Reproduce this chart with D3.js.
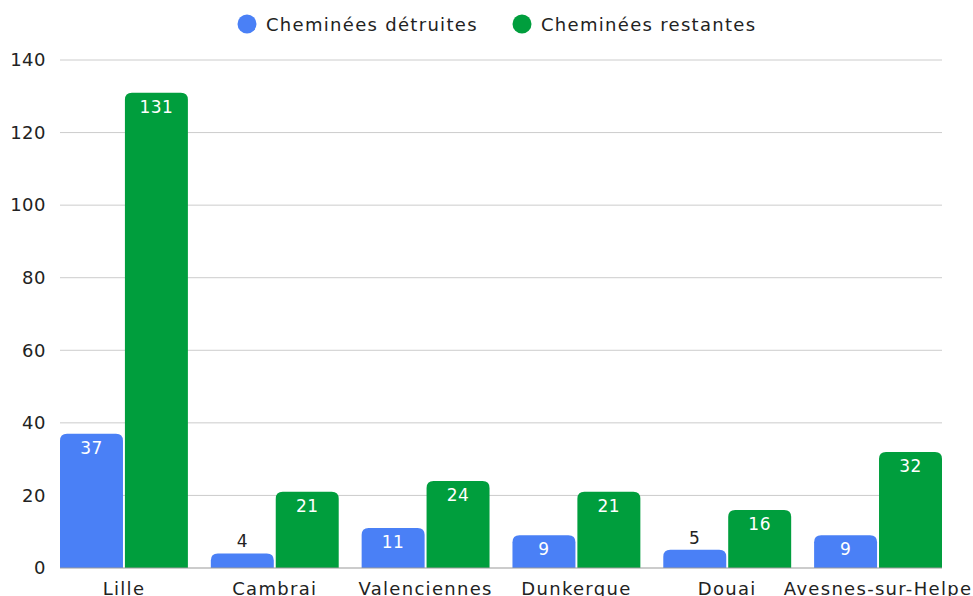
<!DOCTYPE html>
<html><head><meta charset="utf-8">
<script src="https://cdn.jsdelivr.net/npm/d3@7"></script>
<style>body{margin:0;background:#fff;}svg{display:block;font-family:"DejaVu Sans","Open Sans",sans-serif;}</style>
</head><body><svg id="c" width="973" height="596"></svg>
<script>
const categories = ["Lille","Cambrai","Valenciennes","Dunkerque","Douai","Avesnes-sur-Helpe"];
const detruites = [37,4,11,9,5,9];
const restantes = [131,21,24,21,16,32];
const seriesNames = ["Cheminées détruites","Cheminées restantes"];
const colors = ["#4a80f6","#009e3d"];
const yTicks = [0,20,40,60,80,100,120,140];

(function(){
const svg = d3.select("#c");
const pL=60, pR=942, pT=60, pB=568;
const x0 = d3.scaleBand().domain(categories).range([pL,pR]).paddingInner(0.152).paddingOuter(0);
const x1 = d3.scaleBand().domain([0,1]).range([0,x0.bandwidth()]).paddingInner(0.03);
const y = d3.scaleLinear().domain([0,140]).range([pB,pT]);

svg.append("g").selectAll("line").data(yTicks.filter(d=>d>0)).join("line")
  .attr("x1",pL).attr("x2",pR).attr("y1",d=>y(d)).attr("y2",d=>y(d))
  .attr("stroke","#cccccc").attr("stroke-width",1);

const yAxis = d3.axisLeft(y).tickValues(yTicks).tickSize(0).tickPadding(14);
const ga = svg.append("g").attr("transform",`translate(${pL},0)`).call(yAxis);
ga.select(".domain").remove();
ga.selectAll("text").attr("font-size",18).attr("letter-spacing",0.5).attr("fill","#222").attr("font-family","DejaVu Sans, sans-serif");

function roundTop(x,yT,w,h,r){
  r=Math.min(r,h,w/2);
  return `M${x},${yT+h}V${yT+r}Q${x},${yT} ${x+r},${yT}H${x+w-r}Q${x+w},${yT} ${x+w},${yT+r}V${yT+h}Z`;
}
const data = categories.map((c,i)=>({c, vals:[detruites[i],restantes[i]]}));
const groups = svg.append("g").selectAll("g").data(data).join("g")
  .attr("transform",d=>`translate(${x0(d.c)},0)`);
groups.each(function(d){
  const g=d3.select(this);
  d.vals.forEach((v,k)=>{
    const bx=x1(k), bw=x1.bandwidth(), yT=y(v), h=y(0)-y(v);
    g.append("path").attr("d",roundTop(bx,yT,bw,h,7)).attr("fill",colors[k]);
    const inside = h>25;
    g.append("text").attr("x",bx+bw/2).attr("y",inside? yT+20 : yT-6)
      .attr("text-anchor","middle").attr("font-size",17).attr("letter-spacing",0.5)
      .attr("fill",inside?"#fff":"#222").text(v);
  });
});

svg.append("line").attr("x1",pL).attr("x2",pR).attr("y1",y(0)).attr("y2",y(0)).attr("stroke","#999").attr("stroke-width",1.2);

const xAxis = d3.axisBottom(x0).tickSize(0).tickPadding(14);
const gx = svg.append("g").attr("transform",`translate(0,${pB})`).call(xAxis);
gx.select(".domain").remove();
gx.selectAll("text").attr("font-size",18).attr("letter-spacing",1.3).attr("fill","#222").attr("font-family","DejaVu Sans, sans-serif");

const leg = svg.append("g");
const legX=[247,522];
seriesNames.forEach((n,i)=>{
  leg.append("circle").attr("cx",legX[i]).attr("cy",24).attr("r",9.5).attr("fill",colors[i]);
  leg.append("text").attr("x",legX[i]+19).attr("y",31).attr("font-size",18).attr("letter-spacing",1.3).attr("fill","#222").text(n);
});
})();
</script></body></html>
